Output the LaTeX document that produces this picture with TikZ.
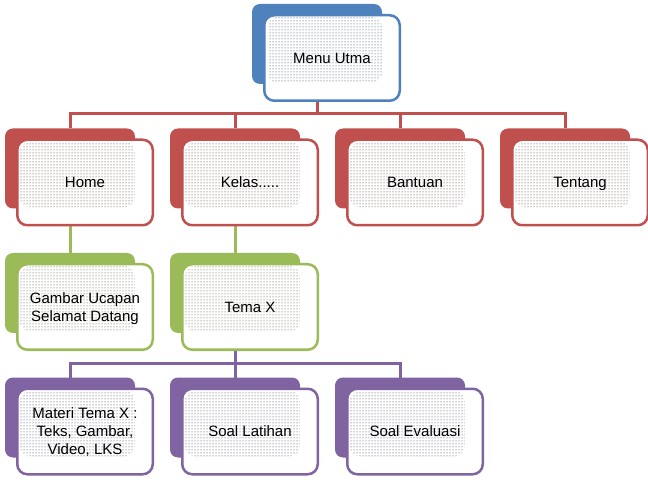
\documentclass[tikz,border=0pt]{standalone}
\usepackage{fontspec}
\setmainfont{Liberation Sans}
\usetikzlibrary{patterns,calc}
\definecolor{cblue}{HTML}{4F81BD}
\definecolor{cred}{HTML}{C0504D}
\definecolor{cgreen}{HTML}{9BBB59}
\definecolor{cpurple}{HTML}{8064A2}
\tikzset{
  backbox/.style={draw=none, fill=#1, rounded corners=8pt, minimum width=130pt,
    minimum height=80pt, anchor=north west, inner sep=0pt, outer sep=0pt},
  frontbox/.style={draw=#1, line width=2.5pt, fill=white, rounded corners=10pt,
    minimum width=135.5pt, minimum height=85.5pt, anchor=center, inner sep=0pt,
    align=center, font=\fontsize{15}{18}\selectfont,
    path picture={\fill[pattern=dots, pattern color=#1!45!black]
      ([shift={(3pt,-2pt)}]path picture bounding box.north west) rectangle
      ([shift={(-18pt,18pt)}]path picture bounding box.south east);}},
  conn/.style={draw=#1, line width=3pt}
}
\newcommand{\topstr}{\rule{0pt}{14pt}}
\newcommand{\botstr}{\rule[-3.5pt]{0pt}{0pt}}
\newcommand{\orgbox}[5]{% name, x0, y0, color, text
  \node[frontbox=#4] (#1) at (#2+80,#3+54) {\topstr #5\botstr};
}
\begin{document}
\begin{tikzpicture}[x=1pt,y=-1pt]
\useasboundingbox (0,0) rectangle (648,486);
% bus coordinates
\coordinate (busA) at (317,113.5);
\coordinate (busB) at (235,363);
% back boxes
\path (252,4) node[backbox=cblue] (menuB) {};
\path (5,128.5) node[backbox=cred] (homeB) {};
\path (170,128.5) node[backbox=cred] (kelasB) {};
\path (335,128.5) node[backbox=cred] (bantuanB) {};
\path (500,128.5) node[backbox=cred] (tentangB) {};
\path (5,253) node[backbox=cgreen] (gambarB) {};
\path (170,253) node[backbox=cgreen] (temaB) {};
\path (5,377.5) node[backbox=cpurple] (materiB) {};
\path (170,377.5) node[backbox=cpurple] (soalB) {};
\path (335,377.5) node[backbox=cpurple] (evalB) {};
% connectors
\draw[conn=cred] (menuB.south) -- (busA);
\draw[conn=cred] (busA) -| (homeB.north);
\draw[conn=cred] (busA) -| (kelasB.north);
\draw[conn=cred] (busA) -| (bantuanB.north);
\draw[conn=cred] (busA) -| (tentangB.north);
\draw[conn=cgreen] (homeB.south) -- (gambarB.north);
\draw[conn=cgreen] (kelasB.south) -- (temaB.north);
\draw[conn=cpurple] (temaB.south) -- (busB);
\draw[conn=cpurple] (busB) -| (materiB.north);
\draw[conn=cpurple] (busB) -| (soalB.north);
\draw[conn=cpurple] (busB) -| (evalB.north);
% front boxes
\orgbox{menu}{252}{4}{cblue}{Menu Utma}
\orgbox{home}{5}{128.5}{cred}{Home}
\orgbox{kelas}{170}{128.5}{cred}{Kelas.....}
\orgbox{bantuan}{335}{128.5}{cred}{Bantuan}
\orgbox{tentang}{500}{128.5}{cred}{Tentang}
\orgbox{gambar}{5}{253}{cgreen}{Gambar Ucapan\\Selamat Datang}
\orgbox{tema}{170}{253}{cgreen}{Tema X}
\orgbox{materi}{5}{377.5}{cpurple}{Materi Tema X :\\Teks, Gambar,\\Video, LKS}
\orgbox{soal}{170}{377.5}{cpurple}{Soal Latihan}
\orgbox{eval}{335}{377.5}{cpurple}{Soal Evaluasi}
\end{tikzpicture}
\end{document}
